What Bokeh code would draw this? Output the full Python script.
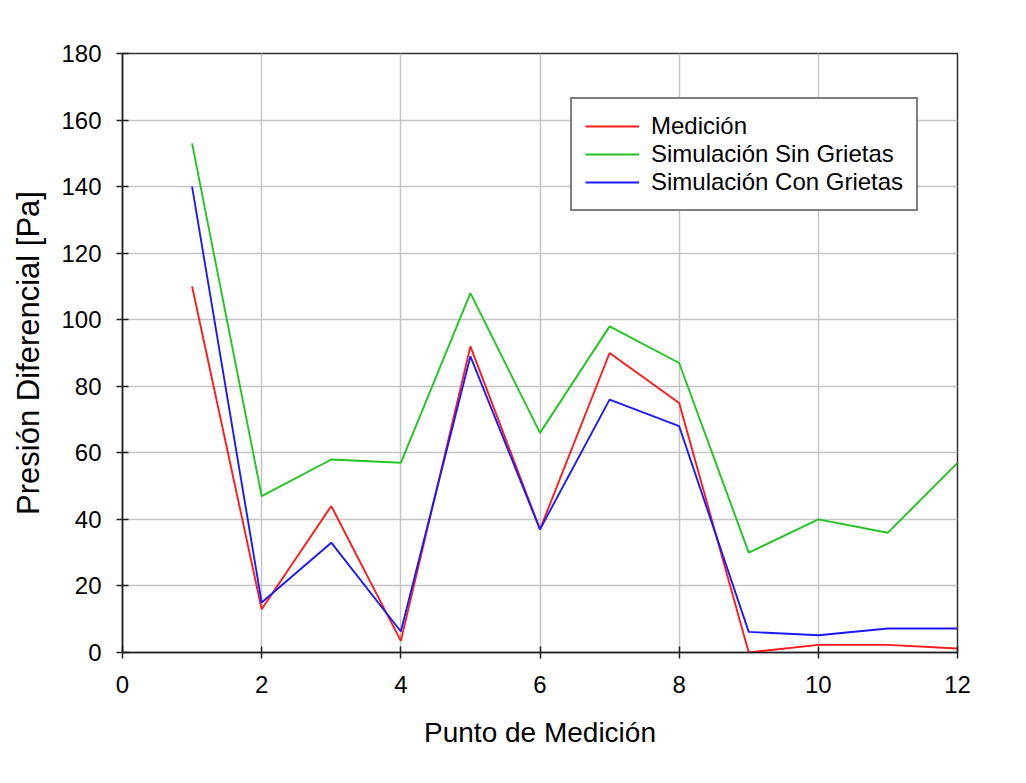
from bokeh.plotting import figure
from bokeh.models import Range1d, FixedTicker, Legend, LegendItem
from bokeh.embed import file_html
from bokeh.resources import INLINE

puntos = [1, 2, 3, 4, 5, 6, 7, 8, 9, 10, 11, 12]
medicion = [110, 13, 44, 3.5, 92, 37, 90, 75, 0, 2.3, 2.3, 1.2]
sin_grietas = [153, 47, 58, 57, 108, 66, 98, 87, 30, 40, 36, 57]
con_grietas = [140, 15, 33, 6.3, 89, 37, 76, 68, 6.2, 5.2, 7.2, 7.2]

x_ticks = [0, 2, 4, 6, 8, 10, 12]
y_ticks = [0, 20, 40, 60, 80, 100, 120, 140, 160, 180]

FONT = "Liberation Sans"

p = figure(width=1010, height=767, output_backend="svg", toolbar_location=None,
           x_range=Range1d(0, 12), y_range=Range1d(0, 180),
           min_border_left=122, min_border_right=53, min_border_top=53, min_border_bottom=115)
p.background_fill_color = "white"
p.border_fill_color = "white"
p.outline_line_color = "#303030"
p.outline_line_width = 1.5

r1 = p.line(puntos, medicion, line_color="#ff1a1a", line_width=1.9)
r2 = p.line(puntos, sin_grietas, line_color="#22c422", line_width=1.9)
r3 = p.line(puntos, con_grietas, line_color="#1a1aff", line_width=1.9)

for ax in (p.xaxis[0], p.yaxis[0]):
    ax.major_tick_in = 6
    ax.major_tick_out = 6
    ax.minor_tick_line_color = None
    ax.axis_line_color = "#202020"
    ax.axis_line_width = 1.5
    ax.major_tick_line_color = "#202020"
    ax.major_tick_line_width = 1.5
    ax.major_label_text_font = FONT
    ax.major_label_text_font_size = "24px"
    ax.major_label_text_color = "black"
    ax.axis_label_text_font = FONT
    ax.axis_label_text_font_style = "normal"
    ax.axis_label_text_color = "black"

p.xaxis.ticker = FixedTicker(ticks=x_ticks)
p.yaxis.ticker = FixedTicker(ticks=y_ticks)
p.xaxis.axis_label = "Punto de Medición"
p.yaxis.axis_label = "Presión Diferencial [Pa]"
p.xaxis.axis_label_text_font_size = "28px"
p.yaxis.axis_label_text_font_size = "31px"
p.xaxis.major_label_standoff = 17
p.yaxis.major_label_standoff = 15
p.xaxis.axis_label_standoff = 21
p.yaxis.axis_label_standoff = 12

p.xgrid.grid_line_color = "#c4c4c4"
p.ygrid.grid_line_color = "#c4c4c4"
p.xgrid.grid_line_width = 1.5
p.ygrid.grid_line_width = 1.5

legend = Legend(items=[
    LegendItem(label="Medición", renderers=[r1]),
    LegendItem(label="Simulación Sin Grietas", renderers=[r2]),
    LegendItem(label="Simulación Con Grietas", renderers=[r3]),
], location=(448, 441))
legend.label_text_font = FONT
legend.label_text_font_size = "24px"
legend.label_text_color = "black"
legend.label_height = 26
legend.glyph_height = 26
legend.glyph_width = 54
legend.label_standoff = 12
legend.spacing = 0
legend.padding = 13
legend.margin = 0
legend.border_line_color = "black"
legend.border_line_width = 2
legend.background_fill_color = "white"
legend.background_fill_alpha = 1.0
p.add_layout(legend, "center")

open("out.html", "w").write(file_html(p, INLINE))
